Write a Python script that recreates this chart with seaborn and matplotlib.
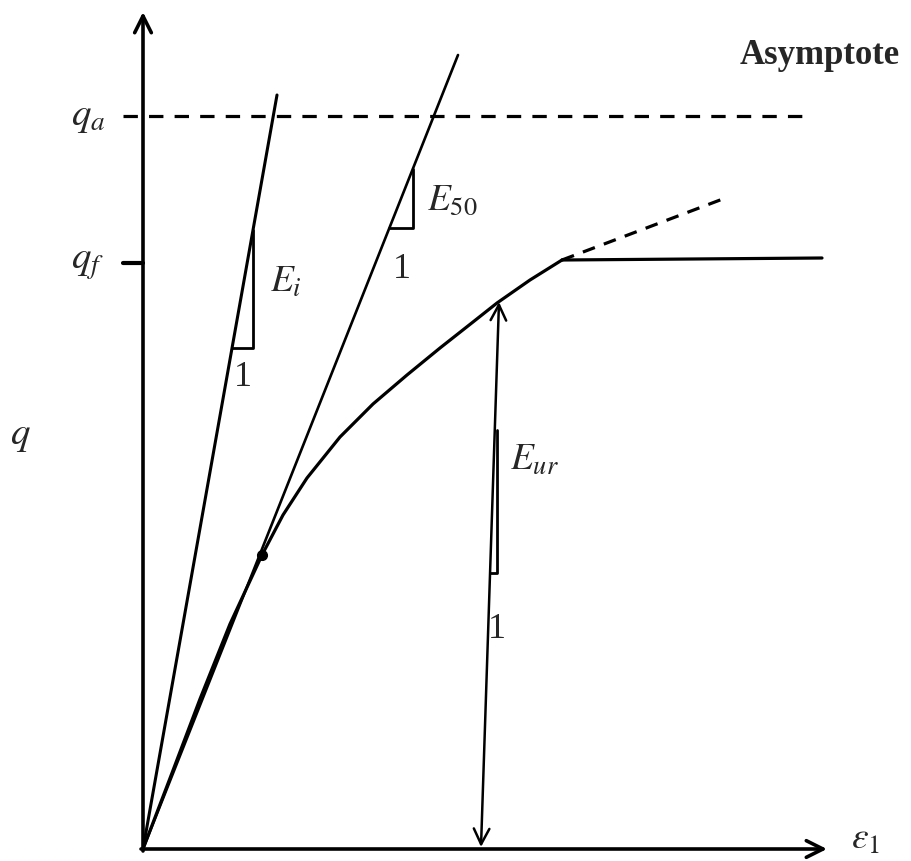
import numpy as np
import pandas as pd
import matplotlib.pyplot as plt
import seaborn as sns

# hyperbolic stress-strain curve (strain, deviator stress)
curve_eps = [0, 29, 57, 87, 119, 140, 164, 197, 230, 264, 297, 330, 354, 387, 419]
curve_q = [0, 76, 150, 225, 294, 334, 371, 412, 445, 474, 501, 527, 546, 569, 589]

# failure plateau and dashed continuation towards the asymptote
plateau_eps = [419, 679]
plateau_q = [589, 591]
cont_eps = [419, 585]
cont_q = [589, 652]

# asymptote and failure levels
q_a = 733
q_f = 586
asym_end = 670

# initial tangent, secant (E50) and unload-reload lines
ei_eps = [0, 134]
ei_q = [0, 754]
e50_eps = [0, 315]
e50_q = [0, 794]
eur_eps = [338, 356]
eur_q = [0, 547]
e50_point = (119, 294)

# little slope triangles: (vertical x, top q, bottom q, left x)
tri_ei = (110, 619, 501, 89)
tri_e50 = (270, 680, 621, 246)
tri_eur = (354, 419, 276, 347)

x_axis_end = 684
y_axis_end = 837

sns.set_style('white')
plt.rcParams['mathtext.fontset'] = 'stix'

fig = plt.figure(figsize=(9.12, 8.61), dpi=100)
ax = fig.add_axes([0, 0, 1, 1])
ax.set_xlim(-143, 769)
ax.set_ylim(-12, 849)
ax.axis('off')

df = pd.DataFrame({'eps': curve_eps, 'q': curve_q})
sns.lineplot(data=df, x='eps', y='q', ax=ax, color='black', lw=2.3, sort=False)
sns.lineplot(x=plateau_eps, y=plateau_q, ax=ax, color='black', lw=2.3)
sns.lineplot(x=cont_eps, y=cont_q, ax=ax, color='black', lw=2.3, linestyle=(0, (4, 3)))

# asymptote
ax.plot([-20, asym_end], [q_a, q_a], color='black', lw=2.3, linestyle=(0, (4.5, 3.5)))
ax.plot([-20, 0], [q_f, q_f], color='black', lw=3)

# tangent and secant lines
ax.plot(ei_eps, ei_q, color='black', lw=2.2)
ax.plot(e50_eps, e50_q, color='black', lw=1.9)
ax.plot(*e50_point, 'o', color='black', ms=7)

# unload-reload double arrow
ax.annotate('', xy=(eur_eps[0], eur_q[0] + 2), xytext=(eur_eps[1], eur_q[1]),
            arrowprops=dict(arrowstyle='<->', color='black', lw=1.8,
                            mutation_scale=28, shrinkA=0, shrinkB=0))

for vx, top, bot, left in [tri_ei, tri_e50, tri_eur]:
    ax.plot([vx, vx, left], [top, bot, bot], color='black', lw=2.0)

# axes with open arrowheads
ax.annotate('', xy=(0, y_axis_end), xytext=(0, -2),
            arrowprops=dict(arrowstyle='->', color='black', lw=2.6,
                            mutation_scale=30, shrinkA=0, shrinkB=0))
ax.annotate('', xy=(x_axis_end, 0), xytext=(-2, 0),
            arrowprops=dict(arrowstyle='->', color='black', lw=2.6,
                            mutation_scale=30, shrinkA=0, shrinkB=0))

# labels
ax.text(-55, q_a, r'$q_a$', fontsize=28, ha='center', va='center')
ax.text(-55, q_f, r'$q_f$', fontsize=28, ha='center', va='center')
ax.text(-123, 414, r'$q$', fontsize=28, ha='center', va='center')
ax.text(723, 10, r'$\epsilon_1$', fontsize=27, ha='center', va='center')
ax.text(127, 567, r'$E_i$', fontsize=27, ha='left', va='center')
ax.text(284, 649, r'$E_{50}$', fontsize=27, ha='left', va='center')
ax.text(367, 389, r'$E_{ur}$', fontsize=27, ha='left', va='center')
for x, y in [(100, 471), (259, 579), (354, 219)]:
    ax.text(x, y, '1', fontsize=26, ha='center', va='center', family='Liberation Serif')
ax.text(677, 794, 'Asymptote', fontsize=25, ha='center', va='center',
        family='Liberation Serif', fontweight='bold')

fig.savefig('out.png', dpi=100)
